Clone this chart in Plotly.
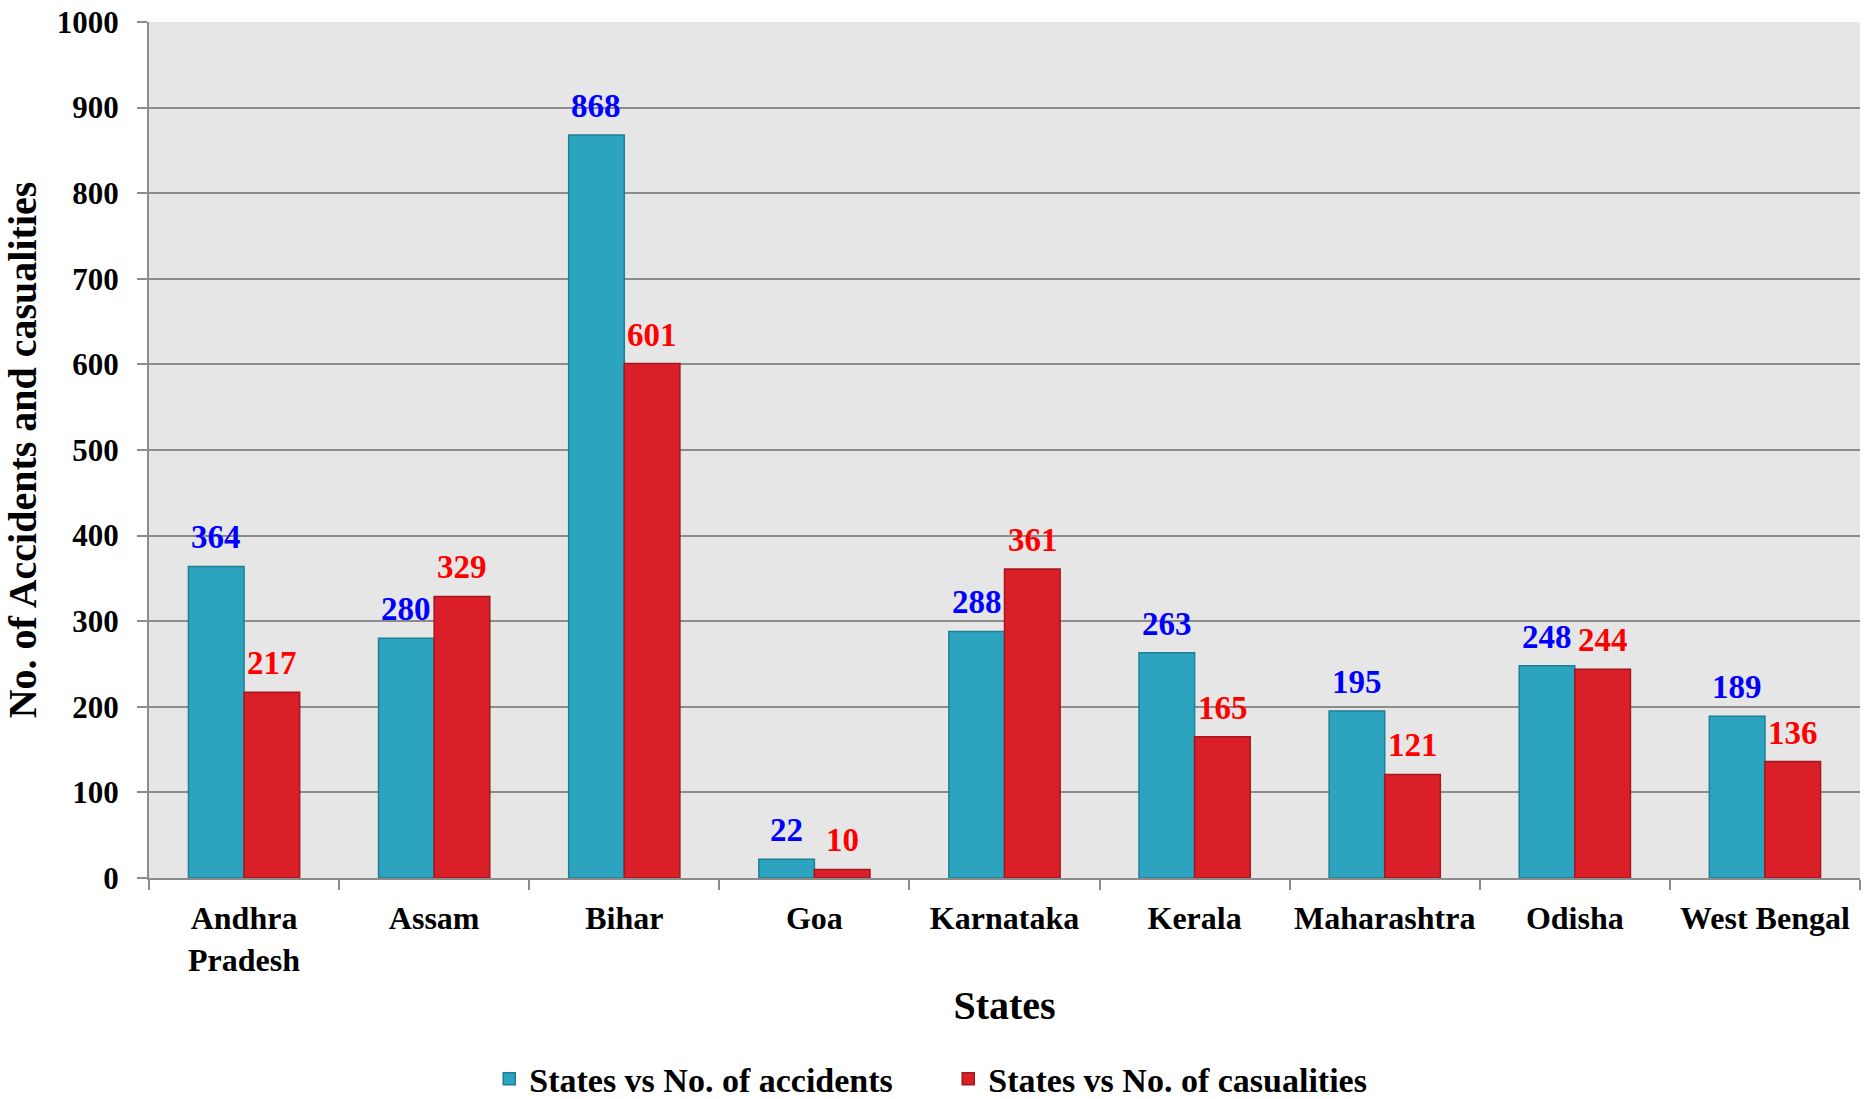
import plotly.graph_objects as go

states = ["Andhra<br>Pradesh", "Assam", "Bihar", "Goa", "Karnataka", "Kerala",
          "Maharashtra", "Odisha", "West Bengal"]
accidents = [364, 280, 868, 22, 288, 263, 195, 248, 189]
casualties = [217, 329, 601, 10, 361, 165, 121, 244, 136]
y_ticks = [0, 100, 200, 300, 400, 500, 600, 700, 800, 900, 1000]

FONT = "Liberation Serif"

fig = go.Figure()
fig.add_trace(go.Bar(
    x=states, y=accidents, name="States vs No. of accidents",
    marker=dict(color="#2CA3BF", line=dict(color="#1F7F95", width=1.5)),
))
fig.add_trace(go.Bar(
    x=states, y=casualties, name="States vs No. of casualities",
    marker=dict(color="#DA1F28", line=dict(color="#A3171E", width=1.5)),
))

for s, a, c in zip(states, accidents, casualties):
    fig.add_annotation(x=s, y=a, text=str(a), showarrow=False, xshift=-28, yshift=9,
                       yanchor="bottom", font=dict(family=FONT, size=33, color="#0000FF", weight="bold"))
    fig.add_annotation(x=s, y=c, text=str(c), showarrow=False, xshift=28, yshift=9,
                       yanchor="bottom", font=dict(family=FONT, size=33, color="#FF0000", weight="bold"))

fig.update_layout(
    width=1874, height=1099,
    margin=dict(l=149, r=14, t=22, b=221, autoexpand=False),
    barmode="group", bargap=0.415, bargroupgap=0,
    plot_bgcolor="#E6E6E6", paper_bgcolor="white",
    font=dict(family=FONT, color="black", weight="bold"),
    showlegend=True,
    legend=dict(orientation="h", xref="container", x=0.506, xanchor="center",
                yref="container", y=0.018, yanchor="middle",
                font=dict(family=FONT, size=34, color="black", weight="bold"),
                entrywidth=414, entrywidthmode="pixels", bgcolor="rgba(0,0,0,0)"),
)
fig.update_xaxes(
    showline=True, linecolor="#8C8C8C", linewidth=2,
    ticks="outside", tickson="boundaries", ticklen=10, tickcolor="#8C8C8C", tickwidth=2,
    ticklabelstandoff=11, tickangle=0,
    tickfont=dict(family=FONT, size=32, color="black", weight="bold"),
    title=dict(text="States", font=dict(family=FONT, size=40, color="black", weight="bold"), standoff=14),
    automargin=False,
)
fig.update_yaxes(
    range=[0, 1000], tickvals=y_ticks,
    showline=True, linecolor="#8C8C8C", linewidth=2,
    showgrid=True, gridcolor="#8C8C8C", gridwidth=1.5,
    ticks="outside", ticklen=10, tickcolor="#8C8C8C", tickwidth=2, ticklabelstandoff=12,
    tickfont=dict(family=FONT, size=31, color="black", weight="bold"),
    title=dict(text="No. of Accidents and casualities", font=dict(family=FONT, size=40, color="black", weight="bold"), standoff=20),
    zeroline=False, automargin=False,
)

fig.write_html("out.html")
